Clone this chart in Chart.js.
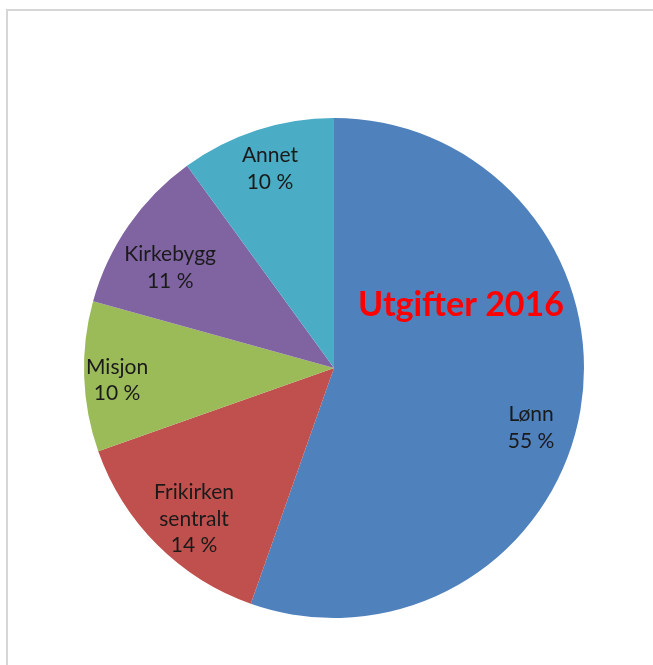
<!DOCTYPE html>
<html>
<head>
<meta charset="utf-8">
<script src="https://cdn.jsdelivr.net/npm/chart.js@4.4.1/dist/chart.umd.min.js"></script>
<style>
  html, body { margin: 0; padding: 0; background: #fff; }
  #wrap { position: relative; width: 653px; height: 665px; }
  #wrap canvas { width: 653px !important; height: 665px !important; }
  #frame { position: absolute; left: 6px; top: 9px; right: 0; bottom: 0;
           border-top: 2px solid #d6d6d6; border-left: 2px solid #d6d6d6; pointer-events: none; }
</style>
</head>
<body>
<div id="wrap">
  <canvas id="pieChart"></canvas>
  <div id="frame"></div>
</div>
<script>
// Data (share of expenses, %)
const categories = ["Lønn", "Frikirken sentralt", "Misjon", "Kirkebygg", "Annet"];
const labelLines = [["Lønn"], ["Frikirken", "sentralt"], ["Misjon"], ["Kirkebygg"], ["Annet"]];
const values = [55.4, 14.2, 9.7, 10.7, 10.0];
const colors = ["#4F81BD", "#C0504D", "#9BBB59", "#8064A2", "#4BACC6"];
const chartTitle = "Utgifter 2016";

// Draw category + percent inside each slice, Excel style
const sliceLabels = {
    id: 'sliceLabels',
    afterDatasetsDraw(chart, args, opts) {
        const ctx = chart.ctx;
        const meta = chart.getDatasetMeta(0);
        const total = values.reduce((a, b) => a + b, 0);
        ctx.save();
        ctx.fillStyle = '#1a1a1a';
        ctx.font = '21px Lato, "Open Sans", sans-serif';
        ctx.textAlign = 'center';
        ctx.textBaseline = 'middle';
        meta.data.forEach((arc, i) => {
            const p = arc.getProps(['x', 'y', 'startAngle', 'endAngle', 'outerRadius'], true);
            const shift = (opts.angleShift[i] || 0) * Math.PI / 180;
            const mid = (p.startAngle + p.endAngle) / 2 + shift;
            const r = p.outerRadius * (opts.radius[i] || 0.8);
            const cx = p.x + Math.cos(mid) * r;
            const cy = p.y + Math.sin(mid) * r;
            const lines = labelLines[i].concat([Math.round(values[i] / total * 100) + ' %']);
            const lh = 26.5;
            lines.forEach((t, k) => {
                ctx.fillText(t, cx, cy + (k - (lines.length - 1) / 2) * lh);
            });
        });
        // title inside the big slice
        const a0 = meta.data[0];
        ctx.fillStyle = '#FF0000';
        ctx.font = 'bold 34px Lato, "Open Sans", sans-serif';
        ctx.fillText(chartTitle, a0.x + a0.outerRadius * 0.508, a0.y - a0.outerRadius * 0.25);
        ctx.restore();
    }
};

const ctx = document.getElementById('pieChart').getContext('2d');
const chart = new Chart(ctx, {
    type: 'pie',
    data: {
        labels: categories,
        datasets: [{
            data: values,
            backgroundColor: colors,
            borderWidth: 0
        }]
    },
    options: {
        responsive: true,
        maintainAspectRatio: false,
        animation: false,
        layout: { padding: { left: 84, right: 69, top: 118, bottom: 47 } },
        plugins: {
            legend: { display: false },
            tooltip: { enabled: false },
            sliceLabels: {
                angleShift: [7.2, -2.2, -1.2, -3.3, 0.2],
                radius: [0.824, 0.824, 0.869, 0.768, 0.838]
            }
        }
    },
    plugins: [sliceLabels]
});
</script>
</body>
</html>
